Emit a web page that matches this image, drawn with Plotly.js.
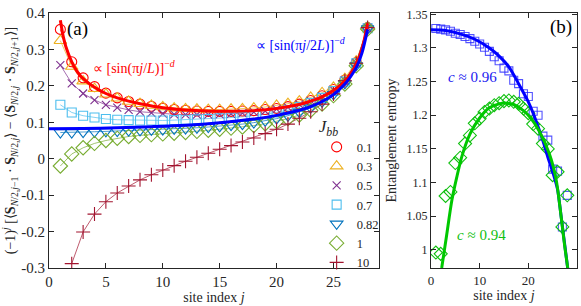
<!DOCTYPE html>
<html><head><meta charset="utf-8">
<script src="https://cdn.plot.ly/plotly-3.0.1.min.js"></script>
<style>html,body{margin:0;padding:0;background:#fff}#chart{width:581px;height:306px}</style>
</head><body><div id="chart"></div><script>
// ---------- Panel (a): dimerization vs site index ----------
const sites = [1,2,3,4,5,6,7,8,9,10,11,12,13,14,15,16,17,18,19,20,21,22,23,24,25,26,27,28];
const sitesJ10 = [2,3,4,5,6,7,8,9,10,11,12,13,14,15,16,17,18,19,20,21,22,23,24,25,26,27,28];
const jbbLabels = ['0.1','0.3','0.5','0.7','0.82','1','10'];

const dimJ01  = [0.355,0.266,0.222,0.198,0.180,0.167,0.157,0.150,0.144,0.139,0.135,0.133,0.131,0.130,0.130,0.130,0.131,0.132,0.135,0.138,0.143,0.150,0.160,0.173,0.190,0.216,0.264,0.360];
const dimJ03  = [0.324,0.253,0.213,0.192,0.177,0.166,0.157,0.151,0.146,0.142,0.139,0.137,0.136,0.135,0.135,0.136,0.137,0.139,0.142,0.146,0.151,0.158,0.168,0.181,0.196,0.220,0.268,0.360];
const dimJ05  = [0.257,0.207,0.179,0.161,0.148,0.140,0.134,0.129,0.126,0.124,0.122,0.121,0.121,0.121,0.122,0.123,0.125,0.128,0.131,0.136,0.141,0.149,0.159,0.172,0.189,0.215,0.263,0.360];
const dimJ07  = [0.148,0.127,0.118,0.113,0.109,0.107,0.106,0.105,0.105,0.105,0.106,0.107,0.108,0.109,0.111,0.113,0.115,0.118,0.122,0.127,0.133,0.142,0.153,0.167,0.186,0.212,0.262,0.358];
const dimJ082 = [0.072,0.072,0.073,0.074,0.075,0.076,0.077,0.078,0.079,0.080,0.082,0.083,0.085,0.087,0.089,0.092,0.095,0.099,0.104,0.110,0.118,0.128,0.140,0.156,0.177,0.207,0.256,0.357];
const dimJ1   = [-0.020,0.013,0.030,0.042,0.050,0.056,0.061,0.064,0.066,0.068,0.070,0.072,0.075,0.078,0.081,0.084,0.087,0.091,0.096,0.102,0.110,0.120,0.133,0.150,0.173,0.205,0.255,0.356];
const dimJ10  = [-0.288,-0.201,-0.152,-0.118,-0.094,-0.075,-0.058,-0.044,-0.031,-0.019,-0.007,0.004,0.015,0.026,0.036,0.046,0.057,0.069,0.081,0.095,0.111,0.129,0.150,0.178,0.214,0.262,0.360];

// fit curves
const fitSinLX = [1,1.25,1.5,2,2.5,3,4,5,6,7,8,10,12,14,16,18,20,22,23,24,25,26,26.5,27,27.5,28];
const fitSinLY = [0.38,0.336,0.306,0.266,0.238,0.220,0.196,0.179,0.167,0.158,0.151,0.140,0.134,0.131,0.130,0.132,0.138,0.149,0.158,0.170,0.187,0.213,0.232,0.260,0.300,0.372];
const fitSin2LX = [0,3,6,9,12,15,18,20,22,23,24,25,26,26.5,27,27.5,28];
const fitSin2LY = [0.082,0.083,0.085,0.088,0.092,0.099,0.109,0.119,0.133,0.143,0.157,0.176,0.205,0.225,0.250,0.290,0.355];

// ---------- Panel (b): entanglement entropy ----------
const eeSites = sites;
const eeJ082 = [1.329,1.328,1.327,1.325,1.322,1.320,1.317,1.314,1.310,1.306,1.301,1.295,1.287,1.281,1.270,1.266,1.252,1.247,1.232,1.228,1.206,1.200,1.169,1.163,1.120,1.117,1.034,1.081];
const eeJ1   = [0.996,0.994,1.080,1.086,1.129,1.137,1.158,1.170,1.188,1.195,1.205,1.210,1.215,1.218,1.221,1.222,1.220,1.217,1.210,1.203,1.187,1.180,1.158,1.150,1.111,1.116,1.034,1.081];
const fitC096X = [0,3,6,9,12,14,16,18,20,21,22,23,24,25,26,26.7,27.4,28.1];
const fitC096Y = [1.327,1.326,1.321,1.313,1.300,1.288,1.272,1.247,1.220,1.203,1.183,1.162,1.138,1.116,1.090,1.052,1.012,0.972];
const fitC094X = [2.2,3.2,4.3,5.3,6.35,8,10,12,14,15.5,17,19,20.5,22.2,24.3,25.7,26.7,27.4,28.1];
const fitC094Y = [0.973,1.021,1.074,1.108,1.139,1.172,1.196,1.211,1.217,1.218,1.216,1.207,1.196,1.177,1.143,1.105,1.052,1.010,0.973];

const serif = "'Liberation Serif', 'Times New Roman', serif";
const axCol = '#262626';

const seriesA = [
  {y: dimJ01,  x: sites,    c: '#FF0000', s: 'circle-open',        sz: 10},
  {y: dimJ03,  x: sites,    c: '#EDB120', s: 'triangle-up-open',   sz: 11},
  {y: dimJ05,  x: sites,    c: '#7E2F8E', s: 'x-thin-open',        sz: 8},
  {y: dimJ07,  x: sites,    c: '#4DBEEE', s: 'square-open',        sz: 9},
  {y: dimJ082, x: sites,    c: '#0072BD', s: 'triangle-down-open', sz: 11},
  {y: dimJ1,   x: sites,    c: '#77AC30', s: 'diamond-open',       sz: 11},
  {y: dimJ10,  x: sitesJ10, c: '#A2142F', s: 'cross-thin-open',    sz: 10}
];

const traces = [];
seriesA.forEach((d) => {
  traces.push({x: d.x, y: d.y, xaxis: 'x', yaxis: 'y', mode: 'lines', showlegend: false,
    hoverinfo: 'skip', line: {color: d.c, width: 0.7}});
});
seriesA.forEach((d, i) => {
  traces.push({x: d.x, y: d.y, xaxis: 'x', yaxis: 'y', mode: 'markers', name: jbbLabels[i],
    marker: {symbol: d.s, size: d.sz, color: d.c, line: {color: d.c, width: 1.1}}});
});
traces.push({x: fitSinLX, y: fitSinLY, xaxis: 'x', yaxis: 'y', mode: 'lines', showlegend: false,
  line: {color: '#FF0000', width: 3, shape: 'spline', smoothing: 0.8}});
traces.push({x: fitSin2LX, y: fitSin2LY, xaxis: 'x', yaxis: 'y', mode: 'lines', showlegend: false,
  line: {color: '#0000FF', width: 3, shape: 'spline', smoothing: 0.8}});

// panel b
traces.push({x: eeSites, y: eeJ082, xaxis: 'x2', yaxis: 'y2', mode: 'markers', showlegend: false,
  marker: {symbol: 'square-open', size: 8, color: 'rgba(40,40,255,0.8)', line: {width: 1.1}}});
traces.push({x: eeSites, y: eeJ1, xaxis: 'x2', yaxis: 'y2', mode: 'markers', showlegend: false,
  marker: {symbol: 'diamond-open', size: 10, color: '#10C010', line: {width: 1.1}}});
traces.push({x: fitC096X, y: fitC096Y, xaxis: 'x2', yaxis: 'y2', mode: 'lines', showlegend: false,
  line: {color: '#0000FF', width: 3, shape: 'spline', smoothing: 0.8}});
traces.push({x: fitC094X, y: fitC094Y, xaxis: 'x2', yaxis: 'y2', mode: 'lines', showlegend: false,
  line: {color: '#00C800', width: 3, shape: 'spline', smoothing: 0.8}});

const axBase = {showline: true, linecolor: axCol, linewidth: 1, mirror: 'ticks', ticks: 'inside',
  ticklen: 5, tickwidth: 1, tickcolor: axCol, showgrid: false, zeroline: false, tickmode: 'array'};

const yTicksA = [-0.3,-0.2,-0.1,0,0.1,0.2,0.3,0.4];
const yTickTextA = ['-0.3','-0.2','-0.1','0','0.1','0.2','0.3','0.4'];
const xTicksA = [0,5,10,15,20,25];
const yTicksB = [1,1.05,1.1,1.15,1.2,1.25,1.3,1.35];
const yTickTextB = ['1','1.05','1.1','1.15','1.2','1.25','1.3','1.35'];
const xTicksB = [0,10,20,30];

function note(text, x, y, size, color) {
  return {text: text, x: x, y: y, xref: 'paper', yref: 'paper', xanchor: 'center', yanchor: 'middle',
    showarrow: false, font: {family: serif, size: size, color: color}};
}

const layout = {
  width: 581, height: 306,
  margin: {l: 0, r: 0, t: 0, b: 0},
  paper_bgcolor: '#fff', plot_bgcolor: '#fff',
  font: {family: serif, color: axCol},
  showlegend: true,
  legend: {x: 0.545, xanchor: 'left', y: 0.64, yanchor: 'top', bgcolor: 'rgba(0,0,0,0)',
    font: {family: serif, size: 12.5, color: axCol}, tracegroupgap: 0,
    title: {text: '<i>J</i><sub><i>bb</i></sub>', font: {family: serif, size: 17, color: axCol}}},
  xaxis: Object.assign({}, axBase, {domain: [0.0843, 0.6523], range: [0, 29], anchor: 'y',
    tickvals: xTicksA, ticktext: xTicksA.map(String), tickfont: {family: serif, size: 15, color: axCol},
    title: {text: 'site index <i>j</i>', font: {family: serif, size: 14, color: axCol}, standoff: 2}}),
  yaxis: Object.assign({}, axBase, {domain: [0.1242, 0.9575], range: [-0.3, 0.4], anchor: 'x',
    tickvals: yTicksA, ticktext: yTickTextA, tickfont: {family: serif, size: 15, color: axCol},
    title: {text: '(−1)<sup><i>j</i></sup> [⟨<b>S</b><sub><i>N</i>/2,<i>j</i>−1</sub> · <b>S</b><sub><i>N</i>/2,<i>j</i></sub>⟩ − ⟨<b>S</b><sub><i>N</i>/2,<i>j</i></sub> · <b>S</b><sub><i>N</i>/2,<i>j</i>+1</sub>⟩]',
      font: {family: serif, size: 14, color: axCol}, standoff: 3}}),
  xaxis2: Object.assign({}, axBase, {domain: [0.7418, 0.9931], range: [0, 30], anchor: 'y2',
    tickvals: xTicksB, ticktext: xTicksB.map(String), tickfont: {family: serif, size: 13, color: axCol},
    title: {text: 'site index <i>j</i>', font: {family: serif, size: 14, color: axCol}, standoff: 2}}),
  yaxis2: Object.assign({}, axBase, {domain: [0.1242, 0.9575], range: [0.973, 1.352], anchor: 'x2',
    tickvals: yTicksB, ticktext: yTickTextB, tickfont: {family: serif, size: 12, color: axCol},
    title: {text: 'Entanglement entropy', font: {family: serif, size: 14, color: axCol}, standoff: 6}}),
  annotations: [
    note('(a)', 0.134, 0.905, 19, '#000'),
    note('∝ [sin(π<i>j</i>/<i>L</i>)]<sup>−<i>d</i></sup>', 0.2306, 0.781, 14, '#FF0000'),
    note('∝ [sin(π<i>j</i>/2<i>L</i>)]<sup>−<i>d</i></sup>', 0.518, 0.853, 14, '#0000FF'),
    note('(b)', 0.9656, 0.912, 19, '#000'),
    note('<i>c</i> ≈ 0.96', 0.8124, 0.748, 15, '#2020F0'),
    note('<i>c</i> ≈ 0.94', 0.828, 0.232, 15, '#10C010')
  ]
};

Plotly.newPlot('chart', traces, layout, {staticPlot: true, displayModeBar: false});
</script></body></html>
